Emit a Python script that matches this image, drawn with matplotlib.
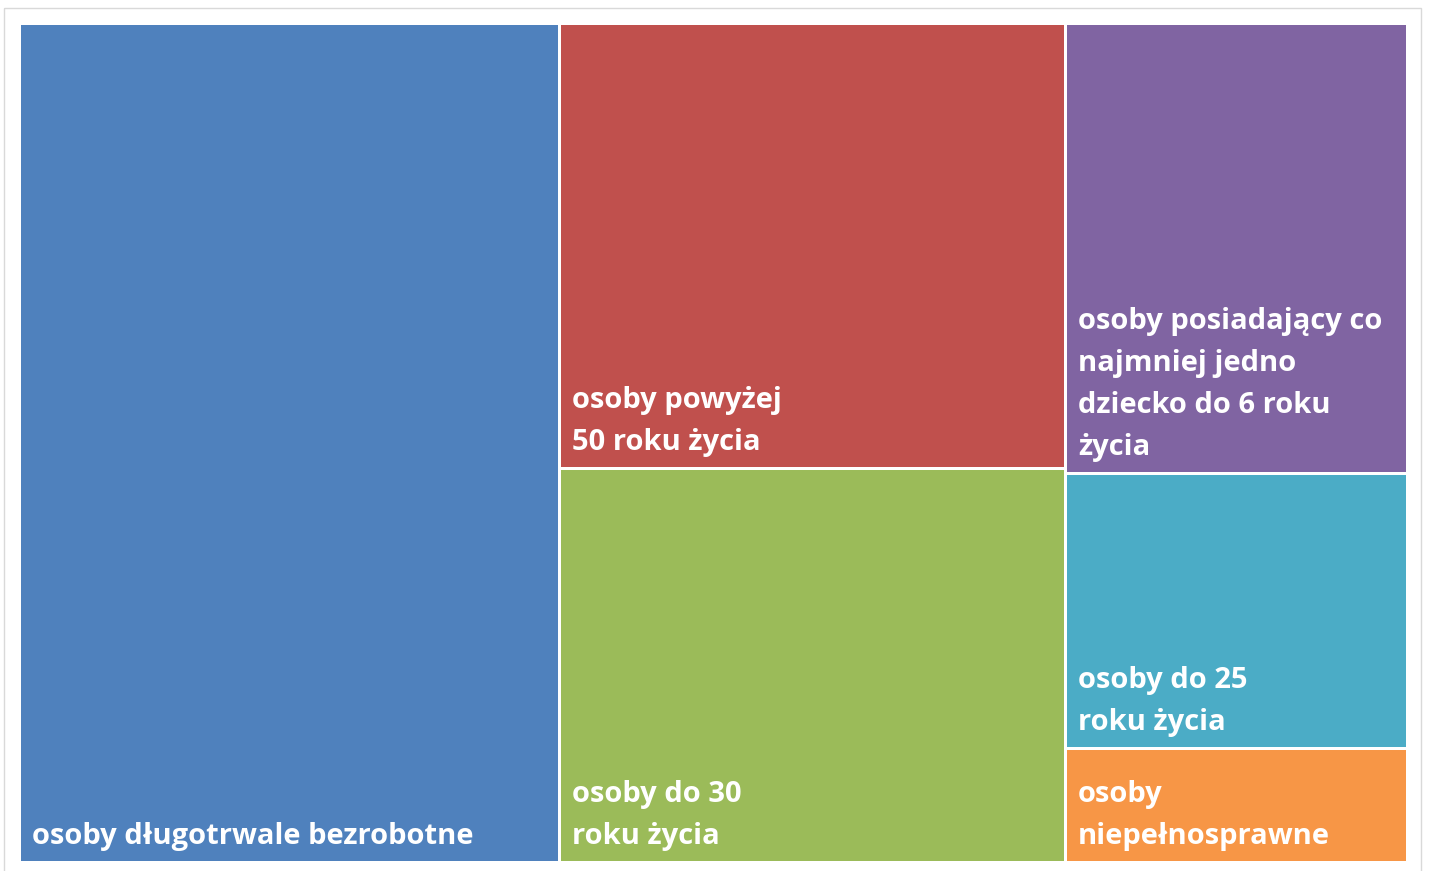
import matplotlib
matplotlib.use("Agg")
import matplotlib.pyplot as plt
from matplotlib.patches import Rectangle

labels = [
    "osoby długotrwale bezrobotne",
    "osoby powyżej\n50 roku życia",
    "osoby do 30\nroku życia",
    "osoby posiadający co\nnajmniej jedno\ndziecko do 6 roku\nżycia",
    "osoby do 25\nroku życia",
    "osoby\nniepełnosprawne",
]
values = [453, 225, 199, 154, 94, 39]
colors = ["#4F81BD", "#C0504D", "#9BBB59", "#8064A2", "#4BACC6", "#F79646"]


def worst(row, w):
    s = sum(row)
    return max(max(w * w * r / (s * s), (s * s) / (w * w * r)) for r in row)


def squarify(vals, x, y, dx, dy):
    # vals already scaled to area dx*dy
    rects = []
    vals = list(vals)
    while vals:
        w = min(dx, dy)
        row = [vals.pop(0)]
        while vals and worst(row + [vals[0]], w) <= worst(row, w):
            row.append(vals.pop(0))
        s = sum(row)
        if dx >= dy:
            cw = s / dy
            cy = y
            for r in row:
                h = r / cw
                rects.append((x, cy, cw, h))
                cy += h
            x += cw
            dx -= cw
        else:
            ch = s / dx
            cx = x
            for r in row:
                ww = r / ch
                rects.append((cx, y, ww, ch))
                cx += ww
            y += ch
            dy -= ch
    return rects


W, H = 1429, 871
fig = plt.figure(figsize=(W / 100, H / 100), dpi=100)
ax = fig.add_axes([0, 0, 1, 1])
ax.set_xlim(0, W)
ax.set_ylim(H, 0)
ax.axis("off")

# chart frame
ax.add_patch(Rectangle((4.5, 8.5), 1417, 870, fill=False, edgecolor="#D9D9D9", lw=1))

x0, y0, x1, y1 = 19.5, 23.5, 1407.5, 862.5
total = sum(values)
areas = [v * (x1 - x0) * (y1 - y0) / total for v in values]
rects = squarify(areas, x0, y0, x1 - x0, y1 - y0)

g = 1.5
for (rx, ry, rw, rh), lab, c in zip(rects, labels, colors):
    ax.add_patch(Rectangle((rx + g, ry + g), rw - 2 * g, rh - 2 * g,
                           facecolor=c, edgecolor="none"))
    ax.text(rx + g + 11, ry + rh - g - 10, lab, color="white", fontsize=21,
            fontfamily="Open Sans", fontweight="bold", ha="left", va="bottom",
            linespacing=1.59)

fig.savefig("out.png", dpi=100)
